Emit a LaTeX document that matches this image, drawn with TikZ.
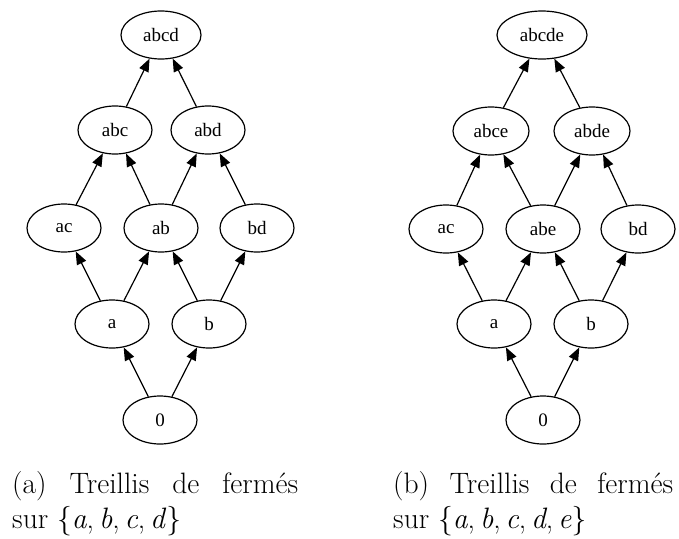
\documentclass[tikz,border=0pt]{standalone}
\usepackage{fontspec}
\usetikzlibrary{shapes.geometric,arrows.meta}
\newfontfamily\nodefont{Liberation Serif}
\newcommand{\setel}[1]{\textit{#1}}
\tikzset{
  latnode/.style={ellipse, draw, line width=1.2pt, inner sep=0pt,
    minimum width=74pt, minimum height=48pt, font=\nodefont\fontsize{19}{22}\selectfont},
  latedge/.style={line width=1.2pt, -{Triangle[length=13pt,width=10pt]}},
  captext/.style={inner sep=0pt, anchor=base west, font=\fontsize{29.5}{35}\selectfont}
}
\begin{document}
\begin{tikzpicture}[x=1pt,y=-1pt]
\useasboundingbox (0,0) rectangle (679,538);

% lattice of closed sets over {a,b,c,d}
\node[latnode, minimum width=80pt] (L4) at (161,35) {abcd};
\node[latnode] (Labc) at (115,130) {abc};
\node[latnode] (Labd) at (208,130) {abd};
\node[latnode] (Lac) at (64,228) {ac};
\node[latnode] (Lab) at (161,228) {ab};
\node[latnode] (Lbd) at (257,228) {bd};
\node[latnode] (La) at (112,324) {a};
\node[latnode] (Lb) at (209,324) {b};
\node[latnode] (L0) at (160,420) {0};

\draw[latedge] (L0) -- (La);
\draw[latedge] (L0) -- (Lb);
\draw[latedge] (La) -- (Lac);
\draw[latedge] (La) -- (Lab);
\draw[latedge] (Lb) -- (Lab);
\draw[latedge] (Lb) -- (Lbd);
\draw[latedge] (Lac) -- (Labc);
\draw[latedge] (Lab) -- (Labc);
\draw[latedge] (Lab) -- (Labd);
\draw[latedge] (Lbd) -- (Labd);
\draw[latedge] (Labc) -- (L4);
\draw[latedge] (Labd) -- (L4);

% lattice of closed sets over {a,b,c,d,e}
\node[latnode, minimum width=90pt] (R5) at (542,35) {abcde};
\node[latnode, minimum width=76pt] (Rabce) at (491,131) {abce};
\node[latnode, minimum width=76pt] (Rabde) at (592,131) {abde};
\node[latnode] (Rac) at (446,229) {ac};
\node[latnode] (Rabe) at (543,229) {abe};
\node[latnode] (Rbd) at (638,229) {bd};
\node[latnode] (Ra) at (494,324) {a};
\node[latnode] (Rb) at (591,324) {b};
\node[latnode] (R0) at (543,420) {0};

\draw[latedge] (R0) -- (Ra);
\draw[latedge] (R0) -- (Rb);
\draw[latedge] (Ra) -- (Rac);
\draw[latedge] (Ra) -- (Rabe);
\draw[latedge] (Rb) -- (Rabe);
\draw[latedge] (Rb) -- (Rbd);
\draw[latedge] (Rac) -- (Rabce);
\draw[latedge] (Rabe) -- (Rabce);
\draw[latedge] (Rabe) -- (Rabde);
\draw[latedge] (Rbd) -- (Rabde);
\draw[latedge] (Rabce) -- (R5);
\draw[latedge] (Rabde) -- (R5);

% sub-captions
\node[captext] (capa1) at (12,493) {\makebox[286pt][s]{(a) Treillis de fermés}};
\node[captext] (capa2) at (12,528) {sur \{\setel{a},\,\setel{b},\,\setel{c},\,\setel{d}\}};
\node[captext] (capb1) at (393,493) {\makebox[280pt][s]{(b) Treillis de fermés}};
\node[captext] (capb2) at (393,528) {sur \{\setel{a},\,\setel{b},\,\setel{c},\,\setel{d},\,\setel{e}\}};
\end{tikzpicture}
\end{document}
